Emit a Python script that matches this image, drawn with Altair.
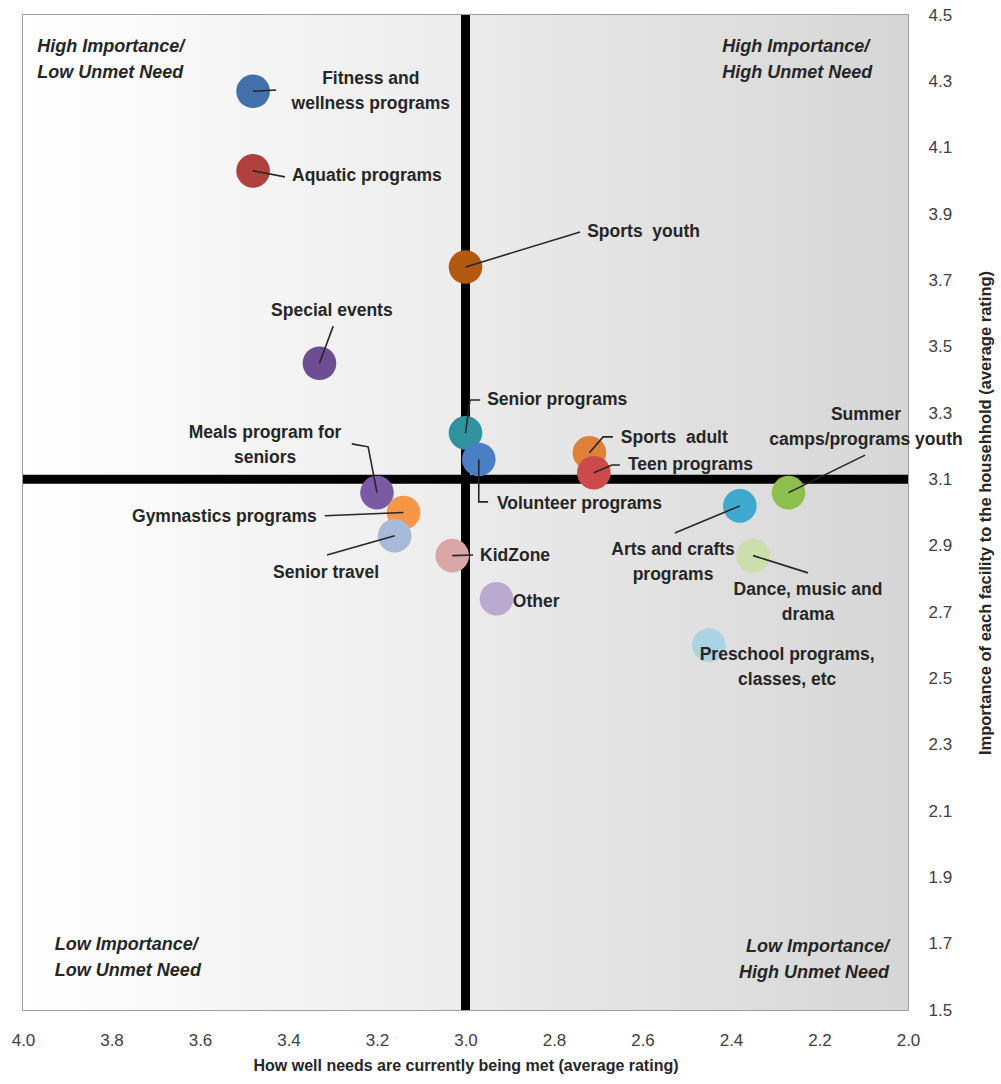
import altair as alt
import pandas as pd

# ---- survey results: one bubble per program ----
programs = [
    "Fitness and wellness programs", "Aquatic programs", "Sports youth", "Special events",
    "Senior programs", "Volunteer programs", "Meals program for seniors", "Gymnastics programs",
    "Senior travel", "KidZone", "Other", "Sports adult", "Teen programs",
    "Summer camps/programs youth", "Arts and crafts programs", "Dance, music and drama",
    "Preschool programs, classes, etc",
]
needs_met = [3.48, 3.48, 3.00, 3.33, 3.00, 2.97, 3.20, 3.14, 3.16, 3.03, 2.93,
             2.72, 2.71, 2.27, 2.38, 2.35, 2.45]
importance = [4.27, 4.03, 3.74, 3.45, 3.24, 3.16, 3.06, 3.00, 2.93, 2.87, 2.74,
              3.18, 3.12, 3.06, 3.02, 2.87, 2.60]
colors = ["#4170ab", "#b0413e", "#b3590f", "#6d4e93", "#31929f", "#4a7fc5", "#7a5aa5",
          "#f79646", "#a7bad9", "#d9a7a6", "#b9abd0", "#e0813a", "#cd4a4b",
          "#8dbf4f", "#40a9cf", "#cadfab", "#aad3e4"]

# ---- bubble labels (text, first-line anchor in rating units, alignment) ----
label_text = [
    "Fitness and\nwellness programs", "Aquatic programs", "Sports \u00a0youth", "Special events",
    "Senior programs", "Volunteer programs", "Meals program for\nseniors", "Gymnastics programs",
    "Senior travel", "KidZone", "Other", "Sports \u00a0adult", "Teen programs",
    "Summer\ncamps/programs youth", "Arts and crafts\nprograms", "Dance, music and\ndrama",
    "Preschool programs,\nclasses, etc",
]
label_x = [3.214, 3.392, 2.725, 3.302, 2.951, 2.929, 3.453, 3.336, 3.315, 2.967, 2.893,
           2.649, 2.633, 2.095, 2.531, 2.226, 2.273]
label_y = [4.307, 4.015, 3.846, 3.608, 3.339, 3.026, 3.240, 2.986, 2.818, 2.869, 2.730,
           3.225, 3.143, 3.294, 2.887, 2.766, 2.570]
label_align = ["center", "left", "left", "center", "left", "left", "center", "right",
               "center", "left", "left", "left", "left", "center", "center", "center", "center"]

# leader lines: points that follow each bubble centre
leader_path = [
    [(3.428, 4.274)],
    [(3.408, 4.012)],
    [(2.741, 3.846)],
    [(3.299, 3.562)],
    [(2.990, 3.339), (2.967, 3.339)],
    [(2.970, 3.032), (2.949, 3.032)],
    [(3.220, 3.198), (3.257, 3.207)],
    [(3.318, 2.990)],
    [(3.313, 2.872)],
    [(2.983, 2.872)],
    [],
    [(2.689, 3.228), (2.667, 3.228)],
    [(2.669, 3.143), (2.651, 3.143)],
    [(2.097, 3.173)],
    [(2.527, 2.938)],
    [(2.226, 2.818)],
    [],
]

# ---- quadrant captions ----
quad_text = ["High Importance/\nLow Unmet Need", "High Importance/\nHigh Unmet Need",
             "Low Importance/\nLow Unmet Need", "Low Importance/\nHigh Unmet Need"]
quad_x = [3.968, 2.420, 3.928, 2.043]
quad_y = [4.404, 4.404, 1.696, 1.690]
quad_align = ["left", "left", "left", "right"]

x_ticks = [4.0, 3.8, 3.6, 3.4, 3.2, 3.0, 2.8, 2.6, 2.4, 2.2, 2.0]
y_ticks = [1.5, 1.7, 1.9, 2.1, 2.3, 2.5, 2.7, 2.9, 3.1, 3.3, 3.5, 3.7, 3.9, 4.1, 4.3, 4.5]

MET_MIN, MET_MAX, MET_SPLIT = 2.0, 4.0, 3.0
IMP_MIN, IMP_MAX, IMP_SPLIT = 1.5, 4.5, 3.1

FONT = "Liberation Sans"
X_TITLE = "How well needs are currently being met (average rating)"
Y_TITLE = "Importance of each facility to the househhold (average rating)"

# ---- tables ----
points = pd.DataFrame({"program": programs, "met": needs_met, "importance": importance,
                       "idx": list(range(len(programs)))})
labels = pd.DataFrame({"program": programs, "text": label_text, "met": label_x,
                       "importance": label_y, "align": label_align})
rows = []
for i, path in enumerate(leader_path):
    if not path:
        continue
    rows.append({"program": programs[i], "step": 0, "met": needs_met[i], "importance": importance[i]})
    for k, (px, py) in enumerate(path, start=1):
        rows.append({"program": programs[i], "step": k, "met": px, "importance": py})
leaders = pd.DataFrame(rows)
quads = pd.DataFrame({"text": quad_text, "met": quad_x, "importance": quad_y, "align": quad_align})

left_band = pd.DataFrame({"met": [MET_MAX], "met_end": [MET_SPLIT],
                          "importance": [IMP_MIN], "imp_end": [IMP_MAX]})
right_band = pd.DataFrame({"met": [MET_SPLIT], "met_end": [MET_MIN],
                           "importance": [IMP_MIN], "imp_end": [IMP_MAX]})
v_line = pd.DataFrame({"met": [MET_SPLIT], "importance": [IMP_MIN], "imp_end": [IMP_MAX]})
h_line = pd.DataFrame({"met": [MET_MAX], "met_end": [MET_MIN], "importance": [IMP_SPLIT]})

# ---- shared scales / axes ----
xscale = alt.Scale(domain=[MET_MIN, MET_MAX], reverse=True, nice=False, zero=False)
yscale = alt.Scale(domain=[IMP_MIN, IMP_MAX], nice=False, zero=False)
xaxis = alt.Axis(title=X_TITLE, values=x_ticks, format=".1f", labelPadding=22,
                 titlePadding=9, titleFontSize=16, titleFontWeight="bold",
                 titleColor="#262626", labelFontSize=17, labelColor="#404040",
                 labelFont=FONT, titleFont=FONT, domain=False, ticks=False, grid=False,
                 labelFlush=False)
yaxis = alt.Axis(title=Y_TITLE, orient="right", values=y_ticks, format=".1f",
                 labelPadding=20, titlePadding=42, titleAngle=270, titleFontSize=16.5,
                 titleFontWeight="bold", titleColor="#262626", labelFontSize=17,
                 labelColor="#404040", labelFont=FONT, titleFont=FONT, domain=False,
                 ticks=False, grid=False, labelFlush=False)


def X(field="met"):
    return alt.X(field, type="quantitative", scale=xscale, axis=xaxis)


def Y(field="importance"):
    return alt.Y(field, type="quantitative", scale=yscale, axis=yaxis)


def grad(c0, c1):
    return {"gradient": "linear", "x1": 0, "y1": 0, "x2": 1, "y2": 0,
            "stops": [{"offset": 0, "color": c0}, {"offset": 1, "color": c1}]}


left_bg = alt.Chart(left_band).mark_rect(fill=grad("#ffffff", "#ececec")).encode(
    x=X(), x2="met_end", y=Y(), y2="imp_end")
right_bg = alt.Chart(right_band).mark_rect(fill=grad("#ebebeb", "#d6d6d6")).encode(
    x=X(), x2="met_end", y=Y(), y2="imp_end")

v_rule = alt.Chart(v_line).mark_rule(color="#000000", strokeWidth=9).encode(
    x=X(), y=Y(), y2="imp_end")
h_rule = alt.Chart(h_line).mark_rule(color="#000000", strokeWidth=9).encode(
    x=X(), x2="met_end", y=Y())

bubbles = alt.Chart(points).mark_circle(size=1130, opacity=1).encode(
    x=X(), y=Y(),
    color=alt.Color("program:N", scale=alt.Scale(domain=programs, range=colors), legend=None),
    order=alt.Order("idx:Q"),
)

leader_lines = alt.Chart(leaders).mark_line(color="#262626", strokeWidth=1.6).encode(
    x=X(), y=Y(), detail="program:N", order=alt.Order("step:Q"))

text_layers = []
for a in ["left", "center", "right"]:
    text_layers.append(
        alt.Chart(labels).transform_filter(alt.datum.align == a).mark_text(
            align=a, baseline="middle", lineBreak="\n", lineHeight=25, font=FONT,
            fontSize=17.5, fontWeight="bold", color="#262626",
        ).encode(x=X(), y=Y(), text="text:N")
    )
    text_layers.append(
        alt.Chart(quads).transform_filter(alt.datum.align == a).mark_text(
            align=a, baseline="middle", lineBreak="\n", lineHeight=26, font=FONT,
            fontSize=18, fontWeight="bold", fontStyle="italic", color="#262626",
        ).encode(x=X(), y=Y(), text="text:N")
    )

chart = alt.layer(
    left_bg, right_bg, v_rule, h_rule, bubbles, leader_lines, *text_layers
).properties(
    width=885, height=995,
    autosize=alt.AutoSizeParams(type="none"),
    padding={"left": 23, "top": 15, "right": 93, "bottom": 74},
    background="#ffffff",
).configure_view(stroke="#7f7f7f", strokeWidth=1.5)

chart.save("out.html", embed_options={"renderer": "svg", "actions": False})
